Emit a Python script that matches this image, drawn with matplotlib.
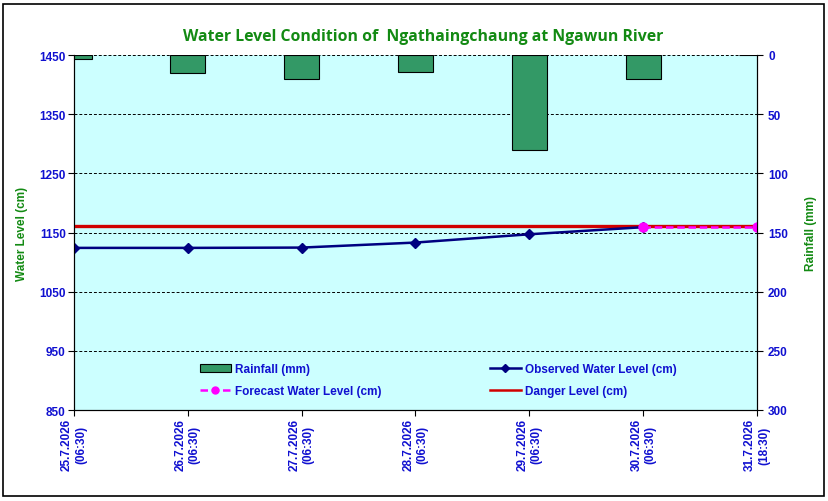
import numpy as np
import matplotlib
matplotlib.use("Agg")
import matplotlib.pyplot as plt
from matplotlib.lines import Line2D
from matplotlib.patches import Patch, Rectangle

# data
dates = ["25.7.2026\n(06:30)", "26.7.2026\n(06:30)", "27.7.2026\n(06:30)",
         "28.7.2026\n(06:30)", "29.7.2026\n(06:30)", "30.7.2026\n(06:30)",
         "31.7.2026\n(18:30)"]
rainfall = [3, 15, 20, 14, 80, 20, 0]
observed = [1124, 1124, 1124.5, 1133, 1147, 1159]
forecast = [np.nan, np.nan, np.nan, np.nan, np.nan, 1159, 1159]
danger = [1161] * 7

plt.rcParams["font.family"] = ["Liberation Sans", "DejaVu Sans"]
plt.rcParams["font.weight"] = "bold"
plt.rcParams["axes.labelweight"] = "bold"

blue = "#1010D0"
green = "#138A13"

fig = plt.figure(figsize=(8.29, 5.02), dpi=100)
fig.patches.append(Rectangle((3.5 / 829, 1 - 497 / 502), 821 / 829, 492 / 502,
                             transform=fig.transFigure, fill=False,
                             edgecolor="black", lw=1.2))

ax = fig.add_axes([74 / 829, 1 - 411 / 502, 683 / 829, 355 / 502])
ax.set_facecolor("#CCFFFF")
x = np.arange(len(dates))

ax.plot(x, danger, color="#D00000", lw=2.4, zorder=3)
ax.plot(x[:len(observed)], observed, color="#000080", lw=1.8,
        marker="D", markersize=5, zorder=4)
ax.plot(x, forecast, color="#FF00FF", lw=1.8, ls=(0, (3, 1.5)),
        marker="o", markersize=6.5, zorder=5)

ax.set_xlim(0, 6)
ax.set_ylim(850, 1450)
ax.set_yticks(range(850, 1451, 100))
ax.set_xticks(x)
ax.set_xticklabels(dates, rotation=90, va="top", ha="center",
                   multialignment="center", fontsize=8.5, color=blue)
ax.tick_params(axis="y", labelsize=8.5, labelcolor=blue, direction="out",
               length=4, pad=2)
ax.tick_params(axis="x", direction="out", length=4, pad=2)
ax.grid(axis="y", color="black", ls=(0, (3, 2)), lw=0.7)
ax.set_axisbelow(True)
ax.spines["top"].set_visible(False)
ax.set_ylabel("Water Level (cm)", color=green, fontsize=8.5, weight="bold")
ax.yaxis.set_label_coords(-0.067, 0.5)

ax2 = ax.twinx()
ax2.bar(x, rainfall, width=0.31, color="#339966", edgecolor="black",
        lw=0.8, zorder=2)
ax2.set_ylim(300, 0)
ax2.set_xlim(0, 6)
ax2.set_yticks(range(0, 301, 50))
ax2.tick_params(axis="y", labelsize=8.5, labelcolor=blue, direction="out",
                length=4, pad=4)
ax2.spines["top"].set_visible(False)
ax2.set_ylabel("Rainfall (mm)", color=green, fontsize=8.5, weight="bold")
ax2.yaxis.set_label_coords(1.070, 0.5)

fig.text(423 / 829, 1 - 37 / 502,
         "Water Level Condition of  Ngathaingchaung at Ngawun River",
         ha="center", va="center", fontsize=11.4, color=green,
         family="Open Sans", weight="bold")

h_rain = Patch(facecolor="#339966", edgecolor="black", lw=0.8)
h_fc = Line2D([], [], color="#FF00FF", lw=1.8, ls=(0, (3, 1.5)),
              marker="o", markersize=5)
h_obs = Line2D([], [], color="#000080", lw=1.8, marker="D", markersize=4)
h_dan = Line2D([], [], color="#D00000", lw=1.8)

kw = dict(frameon=False, fontsize=8.5, labelcolor=blue, borderpad=0,
          borderaxespad=0, handlelength=2.6, handletextpad=0.35,
          labelspacing=0.85, loc="upper left", bbox_transform=fig.transFigure)
leg1 = ax2.legend([h_rain, h_fc], ["Rainfall (mm)", "Forecast Water Level (cm)"],
                  bbox_to_anchor=(200 / 829, 1 - 364 / 502), **kw)
ax2.add_artist(leg1)
ax2.legend([h_obs, h_dan], ["Observed Water Level (cm)", "Danger Level (cm)"],
           bbox_to_anchor=(490 / 829, 1 - 364 / 502), **kw)

fig.savefig("out.png", dpi=100)
